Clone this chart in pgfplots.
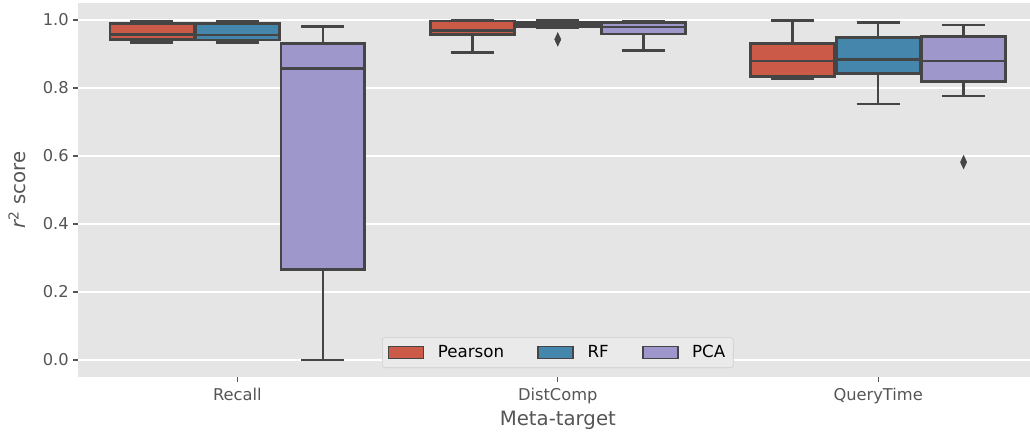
\documentclass[border=0pt]{standalone}
\usepackage{fontspec}
\setmainfont{DejaVu Sans}
\usepackage{pgfplots}
\pgfplotsset{compat=1.18}
\usepgfplotslibrary{statistics}
\definecolor{cP}{HTML}{CC5A49}
\definecolor{cR}{HTML}{4586AC}
\definecolor{cA}{HTML}{9E97CC}
\definecolor{bg}{HTML}{E5E5E5}
\definecolor{edge}{HTML}{454545}
\definecolor{txt}{HTML}{555555}
\definecolor{legbg}{HTML}{EAEAEA}
\definecolor{legframe}{HTML}{CCCCCC}
% #1 position, #2 colour, #3 lower whisker, #4 lower quartile, #5 median, #6 upper quartile, #7 upper whisker
\newcommand{\bx}[7]{%
\addplot[forget plot, fill=#2, draw=edge, line width=2pt,
  mark=diamond*, mark size=5pt, mark options={fill=edge, draw=edge, line width=0.4pt, xscale=0.62},
  boxplot/draw direction=y,
  boxplot prepared={draw position=#1, lower whisker=#3, lower quartile=#4, median=#5,
  upper quartile=#6, upper whisker=#7, box extend=0.262, whisker extend=0.134}]}
\newcommand{\legpatch}[1]{\addlegendimage{legend image code/.code={\path[draw=none, fill=none] (0pt,-4.5pt) rectangle (35pt,4.5pt); \draw[sharp corners, fill=#1, draw=edge, line width=1.2pt] (0pt,-4.5pt) rectangle (26.25pt,4.5pt);}}}
\begin{document}
\begin{tikzpicture}
\begin{axis}[
  scale only axis,
  width=714pt, height=280.5pt,
  xmin=-0.4975, xmax=2.474,
  ymin=-0.05, ymax=1.05,
  axis background/.style={fill=bg},
  axis line style={draw=none},
  ymajorgrids, grid style={white, line width=1.1pt},
  xtick={0,1,2}, xticklabels={Recall,DistComp,QueryTime},
  ytick={0,0.2,0.4,0.6,0.8,1.0},
  yticklabels={0.0,0.2,0.4,0.6,0.8,1.0},
  tick pos=left, tick align=outside,
  major tick length=3.5pt,
  every tick/.style={txt, line width=0.9pt},
  tick label style={font=\fontsize{12.2}{14}\selectfont, text=txt},
  xticklabel style={yshift=-1.5pt},
  xlabel={Meta-target},
  ylabel={{\itshape r}\textsuperscript{2} score},
  every axis x label/.style={at={(axis description cs:0.504,0)}, anchor=north, yshift=-22pt, font=\fontsize{14.8}{17}\selectfont, text=txt},
  every axis y label/.style={at={(axis description cs:-0.0640,0.5)}, anchor=center, rotate=90, font=\fontsize{14.8}{17}\selectfont, text=txt},
  legend columns=3,
  legend style={at={(axis description cs:0.504,0.024)}, anchor=south, fill=legbg, draw=legframe,
    rounded corners=2pt, font=\fontsize{12.5}{15}\selectfont, inner xsep=4pt, inner ysep=4pt,
    /tikz/every even column/.append style={column sep=23pt}},
  legend cell align=left,
]
% Recall
\bx{-0.2667}{cP}{0.933}{0.942}{0.957}{0.989}{0.996} coordinates {};
\bx{0}{cR}{0.933}{0.941}{0.956}{0.990}{0.996} coordinates {};
\bx{0.2667}{cA}{0.000}{0.266}{0.858}{0.930}{0.981} coordinates {};
% DistComp
\bx{0.7333}{cP}{0.905}{0.957}{0.970}{0.997}{1.000} coordinates {};
\bx{1}{cR}{0.978}{0.979}{0.987}{0.994}{1.000} coordinates {(1,0.943)};
\bx{1.2667}{cA}{0.910}{0.959}{0.979}{0.993}{0.996} coordinates {};
% QueryTime
\bx{1.7333}{cP}{0.827}{0.834}{0.879}{0.930}{0.999} coordinates {};
\bx{2}{cR}{0.753}{0.842}{0.883}{0.948}{0.993} coordinates {};
\bx{2.2667}{cA}{0.776}{0.819}{0.879}{0.952}{0.985} coordinates {(2.2667,0.582)};
\legpatch{cP}
\addlegendentry{Pearson}
\legpatch{cR}
\addlegendentry{RF}
\legpatch{cA}
\addlegendentry{PCA}
\end{axis}
\pgfresetboundingbox
\path[use as bounding box] (-58.5pt,-42.75pt) rectangle (714pt,282.75pt);
\end{tikzpicture}
\end{document}
